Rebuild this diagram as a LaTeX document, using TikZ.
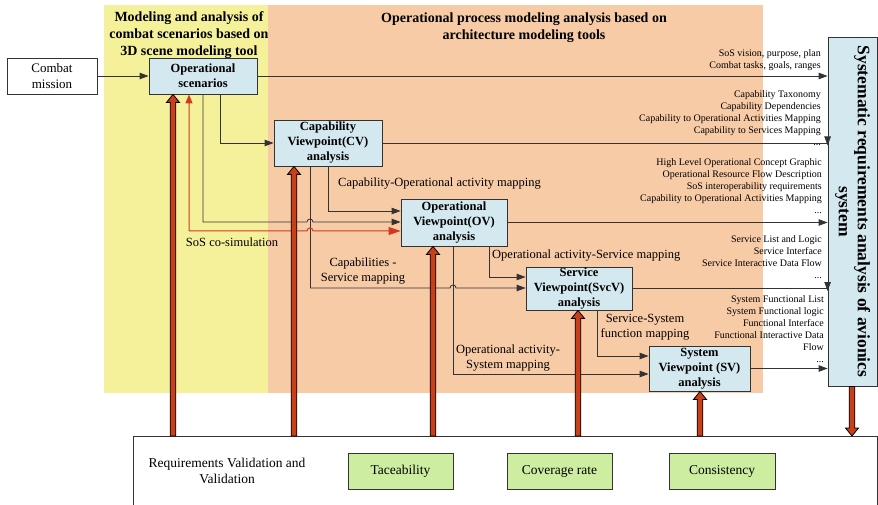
\documentclass[tikz,border=0pt]{standalone}
\usepackage{fontspec}
\setmainfont{Liberation Serif}
\usetikzlibrary{arrows.meta,calc}

\definecolor{zoneyellow}{HTML}{F5F19B}
\definecolor{zoneorange}{HTML}{F8CBA7}
\definecolor{boxblue}{HTML}{D3E8EF}
\definecolor{boxgreen}{HTML}{CDEEA0}
\definecolor{simred}{HTML}{D03A1E}
\definecolor{fatred}{HTML}{C8401A}
\definecolor{edge}{HTML}{333333}

% thick two-tone arrow: base point, tip point, head offset (+ points up, - points down)
\newcommand\fatarrow[3]{%
  \filldraw[fat] ($(#1)+(-2.8,0)$) -- ($(#2)+(-2.8,#3)$) -- ($(#2)+(-6.5,#3)$) -- (#2)
    -- ($(#2)+(6.5,#3)$) -- ($(#2)+(2.8,#3)$) -- ($(#1)+(2.8,0)$) -- cycle;}

\begin{document}
\begin{tikzpicture}[x=1pt,y=-1pt,
  box/.style={draw=edge, fill=boxblue, line width=0.8pt, align=center, inner sep=0pt,
    font=\bfseries\fontsize{12.5}{15}\selectfont},
  plainbox/.style={draw=edge, fill=white, line width=0.8pt, align=center, inner sep=0pt,
    font=\fontsize{13}{16}\selectfont},
  greenbox/.style={draw=edge, fill=boxgreen, line width=0.8pt, inner sep=0pt,
    minimum width=105pt, minimum height=36pt, font=\fontsize{13.5}{16}\selectfont},
  sidebox/.style={draw=edge, fill=boxblue, line width=0.8pt, align=center, inner sep=0pt,
    font=\bfseries\fontsize{17.5}{21}\selectfont},
  zonetitle/.style={align=center, inner sep=0pt, font=\bfseries\fontsize{14}{16.8}\selectfont},
  maplabel/.style={align=center, inner sep=0pt, font=\fontsize{12.5}{15}\selectfont},
  flowlabel/.style={align=right, inner sep=0pt, anchor=north east, font=\fontsize{10}{12}\selectfont},
  conn/.style={draw=edge, line width=0.8pt, -{Triangle[length=9pt,width=6.5pt]}},
  simconn/.style={draw=simred, line width=1pt, {Triangle[length=9pt,width=7pt]}-{Triangle[length=12pt,width=8pt]}},
  fat/.style={draw=black, fill=fatred, line width=0.8pt, line join=miter}
]
\useasboundingbox (0,0) rectangle (878,505);

% tool zones
\fill[zoneyellow] (104,5) rectangle (268,393);
\fill[zoneorange] (268,5) rectangle (763,393);
\node[zonetitle] (t1) at (189,35) {Modeling and analysis of\\combat scenarios based on\\3D scene modeling tool};
\node[zonetitle] (t2) at (524,27.5) {Operational process modeling analysis based on\\architecture modeling tools};

% viewpoint boxes
\node[plainbox, minimum width=90pt, minimum height=36pt] (cm) at (52,76) {Combat\\mission};
\node[box, minimum width=108pt, minimum height=36pt] (ops) at (203,76) {Operational\\scenarios};
\node[box, minimum width=108pt, minimum height=46pt] (cv) at (328,143) {Capability\\Viewpoint(CV)\\analysis};
\node[box, minimum width=106pt, minimum height=47pt] (ov) at (454,222.5) {Operational\\Viewpoint(OV)\\analysis};
\node[box, minimum width=106pt, minimum height=43pt] (svcv) at (579,288.5) {Service\\Viewpoint(SvcV)\\analysis};
\node[box, minimum width=101pt, minimum height=45pt] (sv) at (699.5,368.5) {System\\Viewpoint (SV)\\analysis};
\node[sidebox, minimum width=49pt, minimum height=349pt] (sra) at (852.5,211.5)
  {\rotatebox{-90}{\begin{tabular}{@{}c@{}}Systematic requirements analysis of avionics\\[-2pt] system\end{tabular}}};

% validation strip
\node[draw=edge, fill=white, line width=0.8pt, anchor=north west, minimum width=744pt, minimum height=90pt, inner sep=0pt] (vv) at (133,436) {};
\node[maplabel, font=\fontsize{13.5}{16}\selectfont] (vvt) at (227,471) {Requirements Validation and\\Validation};
\node[greenbox] (tac) at (400.5,471) {Taceability};
\node[greenbox] (cov) at (559.5,471) {Coverage rate};
\node[greenbox, minimum width=106pt] (con) at (722,471) {Consistency};

% bend points of the mapping connectors
\coordinate (k1) at (203,222);
\coordinate (k2) at (189,231);
\coordinate (k3) at (328,211);
\coordinate (k4) at (310,288);
\coordinate (k5) at (489,277);
\coordinate (k6) at (453,374);
\coordinate (k7) at (597,356);

% connectors
\draw[conn] (cm) -- (ops);
\draw[conn] (ops) -- (ops -| sra.west);
\draw[conn] (ops.south -| 220,0) |- (cv.west);
\draw[conn] (cv) -- (cv -| sra.west) -- ++(0,2.5);
\draw[conn] (k3 |- cv.south) -- (k3) -- (k3 -| ov.west);
\draw[draw=edge, line width=0.8pt] (k4 |- cv.south) -- (k4);
\draw[conn] (k1 |- ops.south) -- (k1) -- (307,222) .. controls (307,218) and (313,218) .. (313,222) -- (k1 -| ov.west);
\draw[simconn] (k2 |- ops.south) -- (k2) -- (307,231) .. controls (307,227) and (313,227) .. (313,231) -- (k2 -| ov.west);
\draw[conn] (ov) -- (ov -| sra.west);
\draw[conn] (k5 |- ov.south) -- (k5) -- (k5 -| svcv.west);
\draw[conn] (k6 |- ov.south) -- (k6) -- (k6 -| sv.west);
\draw[conn] (k4) -- (450,288) .. controls (450,284) and (456,284) .. (456,288) -- (k4 -| svcv.west);
\draw[conn] (svcv) -- (svcv -| sra.west) -- ++(0,2.5);
\draw[conn] (k7 |- svcv.south) -- (k7) -- (k7 -| sv.west);
\draw[conn] (sv) -- (sv -| sra.west);

% mapping labels
\node[maplabel] (l1) at (232,242) {SoS co-simulation};
\node[maplabel, anchor=west] (l2) at (338,184) {Capability-Operational activity mapping};
\node[maplabel] (l3) at (363,271) {Capabilities -\\Service mapping};
\node[maplabel, anchor=west] (l4) at (492,256) {Operational activity-Service mapping};
\node[maplabel] (l5) at (645,327.5) {Service-System\\function mapping};
\node[maplabel] (l6) at (508,358.5) {Operational activity-\\System mapping};

% information flows into the requirements analysis
\node[flowlabel] (f1) at (821,49.5) {SoS vision, purpose, plan\\Combat tasks, goals, ranges};
\node[flowlabel] (f2) at (821,90.5) {Capability Taxonomy\\Capability Dependencies\\Capability to Operational Activities Mapping\\Capability to Services Mapping\\...};
\node[flowlabel] (f3) at (822,158) {High Level Operational Concept Graphic\\Operational Resource Flow Description\\SoS interoperability requirements\\Capability to Operational Activities Mapping\\...};
\node[flowlabel] (f4) at (822,235) {Service List and Logic\\Service Interface\\Service Interactive Data Flow\\...};
\node[flowlabel] (f5) at (824,295) {System Functional List\\System Functional logic\\Functional Interface\\Functional Interactive Data\\Flow\\...};

% validation feedback arrows
\coordinate (b1) at (vv.north -| 173,0);
\coordinate (b2) at (vv.north -| 294,0);
\coordinate (b3) at (vv.north -| 433,0);
\coordinate (b4) at (vv.north -| 578,0);
\coordinate (b5) at (vv.north -| 700,0);
\coordinate (b6) at (vv.north -| 852,0);
\fatarrow{b1}{b1 |- ops.south}{8}
\fatarrow{b2}{b2 |- cv.south}{8}
\fatarrow{b3}{b3 |- ov.south}{8}
\fatarrow{b4}{b4 |- svcv.south}{8}
\fatarrow{b5}{b5 |- sv.south}{8}
\fatarrow{b6 |- sra.south}{b6}{-8}
\end{tikzpicture}
\end{document}
